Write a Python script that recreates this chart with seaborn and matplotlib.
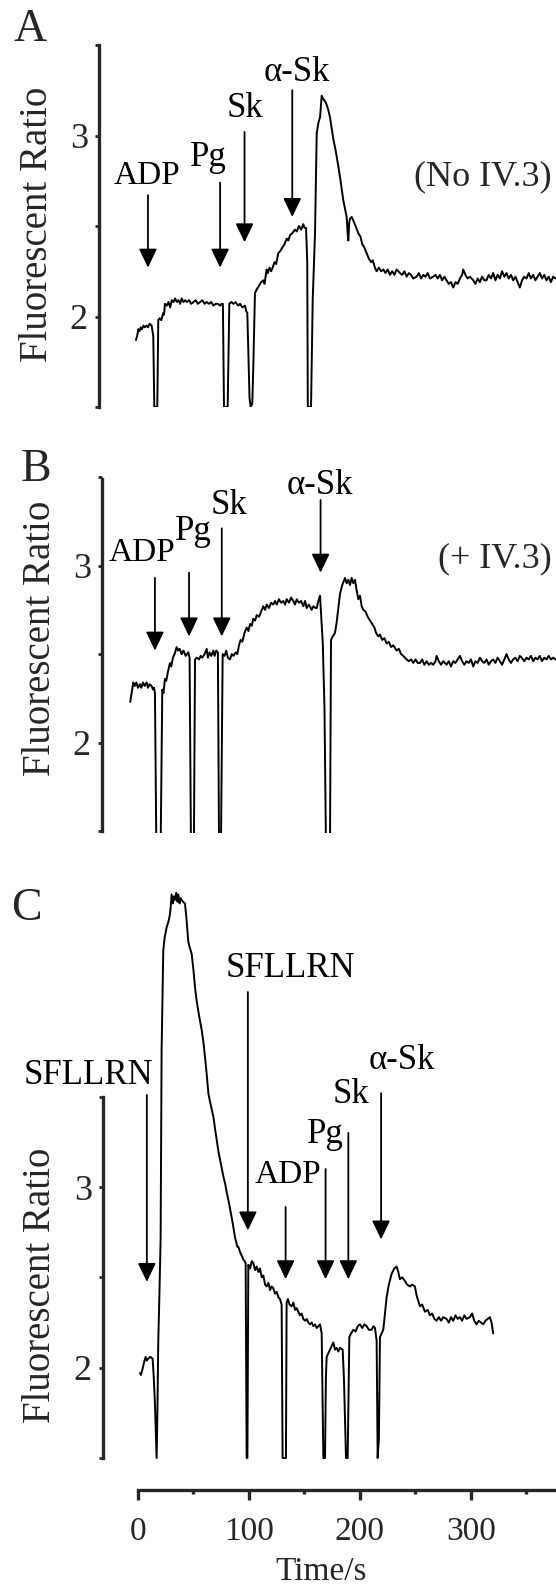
import matplotlib
matplotlib.use("Agg")
import matplotlib.pyplot as plt
import seaborn as sns
import pandas as pd
from matplotlib.ticker import MultipleLocator

sns.set_style("ticks")
plt.rcParams['font.family'] = ['Liberation Serif', 'DejaVu Serif']

# ---------------- data ----------------
a_t = [-1.8, -0.5, 0.3, 1.5, 2.5, 3.5, 5, 6, 7.8, 9, 10.5, 12.3, 13.8, 14.7, 17.4, 18.3, 19.5, 21, 22.8, 23.5,
       24.3, 26, 27.5, 29, 30.5, 32, 33.5, 35, 36.5, 38, 39.3, 41, 42.5, 44, 46, 48, 50, 52, 54, 56,
       58, 60, 62, 64, 66, 68, 70, 72, 74, 75.4, 76.5, 77.5, 80.8, 82.3, 84, 86, 88, 90, 92, 94,
       96.4, 97.5, 98.5, 100.5, 101.5, 103, 104, 105.4, 107, 109, 111, 112.9, 114, 115.9, 117, 118.5, 120, 121.9, 123, 124.5,
       126.4, 128, 130, 132, 134, 135.5, 137, 139, 141.4, 143, 145, 147, 148.9, 150, 151.4, 152.5, 153, 155.9, 157.4, 159.5,
       161, 162.5, 164, 165.5, 167, 168.5, 170, 171.5, 173, 174.5, 176, 178, 180.5, 182.5, 185, 187, 188, 189, 189.5, 190.3,
       191, 192.5, 194, 196, 198.5, 200.5, 202, 204, 206, 208, 210, 211.5, 213.5, 215, 217, 219, 221, 223, 225, 227,
       229, 231, 233, 236, 238, 240, 242, 244, 246, 248, 251, 253, 255, 257, 259, 261, 263, 266, 268, 270,
       272, 274, 276, 278, 280, 282, 284, 286, 288, 290, 292, 293, 295, 297, 299, 302, 304, 306, 308, 310,
       312, 314, 316, 318, 320, 322, 324, 326, 328, 330, 332, 334, 336, 338, 340, 342, 344, 346, 348, 350,
       352, 354, 356, 358, 360, 362, 364, 366, 368, 370, 372, 374, 376]
a_v = [1.87, 1.90, 1.93, 1.92, 1.94, 1.93, 1.95, 1.94, 1.95, 1.94, 1.96, 1.95, 1.89, 1.5, 1.5, 1.98, 1.99, 1.98, 2.02, 2.01,
       2.07, 2.06, 2.08, 2.05, 2.09, 2.08, 2.10, 2.08, 2.09, 2.07, 2.10, 2.08, 2.09, 2.08, 2.09, 2.07, 2.08, 2.09, 2.07, 2.08,
       2.09, 2.07, 2.08, 2.07, 2.08, 2.06, 2.07, 2.07, 2.06, 2.07, 2.07, 1.5, 1.5, 2.07, 2.08, 2.07, 2.08, 2.06, 2.07, 2.05,
       2.06, 2.03, 2.02, 1.55, 1.5, 1.52, 1.75, 2.13, 2.15, 2.17, 2.19, 2.20, 2.18, 2.26, 2.24, 2.27, 2.25, 2.28, 2.30, 2.29,
       2.35, 2.36, 2.38, 2.40, 2.43, 2.42, 2.45, 2.46, 2.48, 2.47, 2.50, 2.48, 2.51, 2.49, 2.49, 2.30, 1.5, 1.5, 2.09, 2.46,
       3.01, 3.07, 3.10, 3.22, 3.20, 3.19, 3.17, 3.14, 3.10, 3.04, 2.98, 2.92, 2.83, 2.75, 2.64, 2.58, 2.55, 2.45, 2.42, 2.52,
       2.54, 2.55, 2.53, 2.50, 2.46, 2.44, 2.40, 2.38, 2.35, 2.32, 2.30, 2.31, 2.27, 2.25, 2.27, 2.25, 2.26, 2.24, 2.26, 2.23,
       2.25, 2.23, 2.26, 2.24, 2.23, 2.25, 2.22, 2.24, 2.23, 2.21, 2.22, 2.24, 2.21, 2.23, 2.22, 2.24, 2.21, 2.22, 2.23, 2.21,
       2.23, 2.20, 2.22, 2.20, 2.18, 2.19, 2.16, 2.19, 2.18, 2.21, 2.23, 2.26, 2.23, 2.21, 2.22, 2.20, 2.18, 2.21, 2.19, 2.22,
       2.20, 2.20, 2.23, 2.21, 2.24, 2.20, 2.23, 2.21, 2.25, 2.22, 2.24, 2.21, 2.23, 2.20, 2.22, 2.19, 2.16, 2.20, 2.22, 2.21,
       2.24, 2.21, 2.23, 2.20, 2.22, 2.24, 2.21, 2.23, 2.20, 2.22, 2.19, 2.22, 2.21]

b_t = [-7, -6, -5, -4.2, -3, -1.5, 0, 1.8, 3, 4.5, 6, 7.8, 9, 10.5, 12.3, 13.5, 14.5, 15.3, 16.5, 20.5,
       21.9, 23, 24.3, 25.5, 27, 28.8, 30, 31.5, 33, 34.8, 36, 37.5, 39.3, 41, 43, 45.3, 46.5, 47.7, 50.4, 51.4,
       53, 55, 56.5, 58, 60, 61.9, 63, 64.5, 66, 67.9, 69, 70.5, 72, 73, 74.8, 76.3, 78, 79.5, 81, 82.9,
       84.5, 86, 88, 89.5, 91, 92.5, 94, 96, 97.9, 99.5, 101, 102.5, 103.9, 105.5, 107, 109, 111, 112.9, 114.5, 116,
       118, 120, 121.9, 123.5, 125, 127, 129, 130.9, 132.5, 134, 136, 138, 139.9, 141.5, 143, 145, 147, 148.9, 150.5, 152,
       154, 156.5, 158, 160, 161, 162.5, 164, 165, 166.5, 168, 169.3, 173, 173.9, 175.5, 177.5, 179, 180.5, 182, 184, 186.5,
       188, 189.5, 191, 192.5, 194, 195.5, 197, 198.5, 200, 201.5, 203, 205, 207, 209, 211, 213, 214.5, 216.5, 218, 220,
       222, 224, 226, 228, 230, 233, 235, 237, 239, 242, 244, 246, 248, 250, 252, 254, 256, 258, 260, 262,
       264, 266, 268, 269, 271, 273, 275, 278, 280, 282, 284, 286, 288, 290, 292, 294, 296, 298, 300, 302,
       304, 306, 308, 310, 312, 314, 316, 318, 320, 322, 324, 326, 328, 330, 332, 334, 336, 338, 340, 342,
       344, 345.6, 348, 350, 352, 354, 356, 358, 360, 362, 364, 366, 368, 370, 372, 374, 376]
b_v = [2.23, 2.27, 2.31, 2.34, 2.32, 2.34, 2.31, 2.33, 2.31, 2.34, 2.32, 2.34, 2.31, 2.33, 2.32, 2.30, 2.31, 2.28, 1.45, 1.45,
       2.30, 2.28, 2.36, 2.35, 2.40, 2.45, 2.43, 2.48, 2.50, 2.54, 2.52, 2.53, 2.50, 2.52, 2.49, 2.51, 2.48, 1.45, 1.45, 2.47,
       2.48, 2.47, 2.49, 2.48, 2.50, 2.53, 2.48, 2.51, 2.49, 2.52, 2.49, 2.52, 2.51, 1.45, 1.45, 2.50, 2.49, 2.52, 2.48, 2.47,
       2.50, 2.49, 2.51, 2.50, 2.55, 2.58, 2.57, 2.62, 2.65, 2.63, 2.67, 2.66, 2.70, 2.69, 2.72, 2.71, 2.74, 2.77, 2.75, 2.78,
       2.76, 2.79, 2.78, 2.80, 2.78, 2.81, 2.79, 2.80, 2.78, 2.81, 2.79, 2.82, 2.80, 2.78, 2.81, 2.79, 2.80, 2.77, 2.80, 2.76,
       2.78, 2.75, 2.77, 2.76, 2.76, 2.80, 2.83, 2.72, 2.56, 2.20, 1.45, 1.45, 2.58, 2.60, 2.62, 2.68, 2.76, 2.84, 2.89, 2.93,
       2.90, 2.92, 2.89, 2.93, 2.90, 2.92, 2.86, 2.81, 2.83, 2.77, 2.75, 2.74, 2.71, 2.69, 2.67, 2.65, 2.62, 2.60, 2.61, 2.58,
       2.59, 2.56, 2.57, 2.54, 2.55, 2.52, 2.53, 2.50, 2.49, 2.47, 2.46, 2.47, 2.45, 2.47, 2.45, 2.45, 2.47, 2.44, 2.46, 2.44,
       2.45, 2.44, 2.46, 2.49, 2.46, 2.44, 2.46, 2.44, 2.46, 2.43, 2.46, 2.45, 2.47, 2.49, 2.46, 2.44, 2.46, 2.45, 2.47, 2.43,
       2.46, 2.45, 2.48, 2.46, 2.45, 2.47, 2.44, 2.46, 2.47, 2.45, 2.48, 2.46, 2.44, 2.47, 2.50, 2.47, 2.45, 2.47, 2.48, 2.46,
       2.49, 2.48, 2.46, 2.48, 2.47, 2.49, 2.46, 2.48, 2.47, 2.49, 2.46, 2.48, 2.47, 2.49, 2.47, 2.48, 2.47]

c_t = [1.8, 2.7, 4, 5.5, 6.9, 8, 9.3, 11, 13.2, 14.2, 15.3, 16.8, 17.5, 18.3, 19.3, 20.4, 21.3, 22.8, 24, 25.9,
       27.5, 28.8, 29.5, 30.3, 31.5, 32.5, 33.3, 34.5, 35.5, 36.3, 37.5, 38.5, 39.3, 40.5, 42.3, 43.5, 45.3, 46.5, 48.4, 50,
       51.5, 52.9, 55, 57.4, 59, 60.4, 62, 63.4, 65, 66.5, 67.9, 69.5, 71, 72.4, 74, 75.5, 76.9, 78.5, 80, 81.4,
       83, 84.5, 85.9, 87.5, 89.5, 90.4, 92, 93.5, 94.9, 96, 97, 97.9, 98.6, 99.4, 101, 102.5, 103.9, 105.5, 106.9, 108.5,
       109.9, 111.5, 113, 114.5, 115.9, 117.5, 119, 120.5, 121.9, 123.5, 125, 126.5, 127.9, 129.4, 130.3, 133.3, 133.9, 135, 136.5, 138.4,
       140, 141.5, 142.9, 144.5, 146, 147.5, 148.9, 150.5, 152, 153.5, 154.9, 156.5, 158, 159.5, 161, 162.5, 164, 165.5, 167, 168.5,
       169.3, 170, 171.5, 173, 174.5, 176, 177.5, 179, 180.5, 182, 184.4, 185.6, 187.4, 188.9, 190.4, 192, 194, 196, 198, 200,
       202, 204, 206, 208, 210.5, 212, 213.5, 215, 215.9, 217, 218, 219.5, 221, 222.5, 224, 226, 228.5, 231, 233, 234.5,
       236, 238, 240.5, 242.5, 245, 247, 249.5, 251, 254, 256, 258.5, 261, 263, 265, 267, 269, 271, 273, 275, 278,
       280, 282, 284, 286, 288, 290, 292, 294, 296, 299, 301, 303, 305, 307, 309, 311, 313, 315, 317, 318.5, 320]
c_v = [1.97, 1.96, 1.99, 2.03, 2.06, 2.04, 2.05, 2.06, 2.05, 1.95, 1.80, 1.5, 1.75, 2.15, 2.40, 2.71, 3.76, 4.31, 4.38, 4.44,
       4.47, 4.51, 4.55, 4.62, 4.57, 4.61, 4.59, 4.63, 4.58, 4.62, 4.57, 4.60, 4.59, 4.58, 4.57, 4.50, 4.36, 4.33, 4.29, 4.20,
       4.10, 4.03, 3.95, 3.87, 3.80, 3.72, 3.62, 3.52, 3.47, 3.43, 3.39, 3.32, 3.26, 3.20, 3.15, 3.10, 3.06, 3.02, 2.97, 2.93,
       2.88, 2.83, 2.78, 2.72, 2.67, 2.67, 2.64, 2.62, 2.60, 2.59, 2.58, 1.5, 1.5, 2.57, 2.55, 2.59, 2.58, 2.54, 2.56, 2.53,
       2.55, 2.50, 2.51, 2.46, 2.45, 2.47, 2.43, 2.45, 2.44, 2.41, 2.42, 2.39, 2.38, 2.35, 1.5, 1.5, 2.36, 2.38, 2.35, 2.34,
       2.36, 2.32, 2.33, 2.31, 2.29, 2.30, 2.27, 2.26, 2.27, 2.25, 2.24, 2.25, 2.23, 2.24, 2.22, 2.23, 2.24, 2.19, 1.5, 1.5,
       1.95, 2.06, 2.08, 2.10, 2.12, 2.14, 2.10, 2.11, 2.09, 2.11, 2.10, 1.93, 1.5, 1.5, 2.17, 2.19, 2.21, 2.20, 2.23, 2.24,
       2.22, 2.24, 2.23, 2.21, 2.21, 2.23, 2.22, 2.15, 1.5, 1.6, 2.17, 2.19, 2.21, 2.30, 2.39, 2.46, 2.52, 2.55, 2.56, 2.53,
       2.49, 2.50, 2.48, 2.46, 2.45, 2.46, 2.45, 2.40, 2.34, 2.35, 2.31, 2.32, 2.29, 2.30, 2.27, 2.26, 2.28, 2.26, 2.28, 2.27,
       2.25, 2.28, 2.26, 2.29, 2.27, 2.28, 2.26, 2.29, 2.27, 2.28, 2.30, 2.26, 2.24, 2.26, 2.25, 2.24, 2.26, 2.27, 2.28, 2.25, 2.19]

# arrows: label, time, tail value, tip value, label x (time), label y (value)
a_arrows = [("ADP", 9, 2.67, 2.27, 8, 2.78),
            ("Pg", 74, 2.74, 2.27, 63, 2.88),
            ("Sk", 96, 3.02, 2.41, 96, 3.15),
            ("α-Sk", 139, 3.25, 2.55, 143, 3.35)]
b_arrows = [("ADP", 15.3, 2.93, 2.52, 4, 3.07),
            ("Pg", 46, 2.96, 2.60, 50, 3.19),
            ("Sk", 75.5, 3.21, 2.60, 82, 3.34),
            ("α-Sk", 164.5, 3.37, 2.96, 164, 3.45)]
c_arrows = [("SFLLRN", 8, 3.51, 2.475, -45, 3.62),
            ("SFLLRN", 99, 4.08, 2.76, 137, 4.21),
            ("ADP", 133, 2.89, 2.49, 135, 3.07),
            ("Pg", 169, 3.10, 2.49, 169, 3.29),
            ("Sk", 189.5, 3.30, 2.49, 192, 3.51),
            ("α-Sk", 219, 3.52, 2.71, 238, 3.70)]

yticks = [1.5, 2, 2.5, 3, 3.5]
ylabels = ["", "2", "", "3", ""]
xticks_major = [0, 100, 200, 300]
xtick_labels = ["0", "100", "200", "300"]

# ---------------- layout ----------------
W, H = 556, 1589
fig = plt.figure(figsize=(W / 100, H / 100), dpi=100)

def px_axes(left, top, bottom, right=556):
    return fig.add_axes([left / W, 1 - bottom / H, (right - left) / W, (bottom - top) / H])

XMAX = (556 - 138) / 1.11
axA = px_axes(99, 45, 407)
axB = px_axes(102, 477, 833)
axC = px_axes(103, 880, 1490)

panels = [
    (axA, a_t, a_v, a_arrows, (-35.1, XMAX), (1.5, 3.5)),
    (axB, b_t, b_v, b_arrows, (-32.4, XMAX), (1.49, 3.49)),
    (axC, c_t, c_v, c_arrows, (-31.5, XMAX), (1.323, 4.70)),
]

LABEL_FS = 25
for ax, t, v, arrows, xl, yl in panels:
    df = pd.DataFrame({"t": t, "v": v})
    sns.lineplot(data=df, x="t", y="v", ax=ax, color="black", linewidth=1.4,
                 sort=False, estimator=None)
    ax.set_xlim(*xl)
    ax.set_ylim(*yl)
    ax.set_xlabel("")
    ax.set_ylabel("")
    ax.patch.set_alpha(0)
    for s in ["top", "right"]:
        ax.spines[s].set_visible(False)
    ax.spines["left"].set_linewidth(2.4)
    ax.spines["left"].set_bounds(1.5, 3.5 if yl[1] > 3.5 else yl[1])
    ax.set_yticks(yticks)
    ax.set_yticklabels(ylabels)
    ax.tick_params(axis="y", direction="out", length=3, width=2, labelsize=26, pad=5)
    for lbl, tt, tail, tip, lx, ly in arrows:
        ax.annotate("", xy=(tt, tip), xytext=(tt, tail),
                    arrowprops=dict(arrowstyle="-|>,head_length=1.15,head_width=0.55",
                                    mutation_scale=10, lw=1.3, color="black",
                                    shrinkA=0, shrinkB=0))
        ax.text(lx, ly, lbl, ha="center", va="center",
                fontsize=LABEL_FS - 1 if lbl == "ADP" else LABEL_FS, color="black")

for ax in (axA, axB):
    ax.spines["bottom"].set_visible(False)
    ax.set_xticks([])

axC.spines["bottom"].set_linewidth(2.4)
axC.spines["bottom"].set_bounds(0, XMAX)
axC.set_xticks(xticks_major)
axC.set_xticklabels(xtick_labels)
axC.xaxis.set_minor_locator(MultipleLocator(50))
axC.tick_params(axis="x", which="major", direction="out", length=7, width=2.4, labelsize=24, pad=12)
axC.tick_params(axis="x", which="minor", direction="out", length=3, width=2.4)
axC.tick_params(axis="y", which="minor", length=0)

# side texts
axA.text(552 / 1.11 - 138 / 1.11, 2.77, "(No IV.3)", ha="right", va="center", fontsize=26)
axB.text(552 / 1.11 - 138 / 1.11, 3.04, "(+ IV.3)", ha="right", va="center", fontsize=26)

def ftext(x, y, s, **kw):
    fig.text(x / W, 1 - y / H, s, **kw)

ftext(30, 30, "A", fontsize=33, ha="center", va="center")
ftext(36, 470, "B", fontsize=33, ha="center", va="center")
ftext(26, 909, "C", fontsize=33, ha="center", va="center")
ftext(38, 224, "Fluorescent Ratio", fontsize=28, rotation=90, ha="center", va="center")
ftext(41, 638, "Fluorescent Ratio", fontsize=28, rotation=90, ha="center", va="center")
ftext(41, 1285, "Fluorescent Ratio", fontsize=28, rotation=90, ha="center", va="center")
ftext(321, 1587, "Time/s", fontsize=24, ha="center", va="bottom")

fig.savefig("out.png", dpi=100)
